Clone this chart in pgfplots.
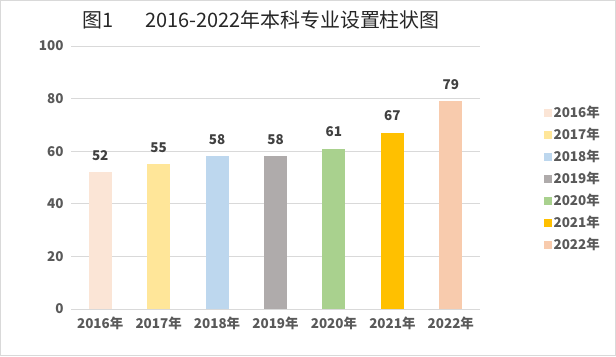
\documentclass[border=0pt]{standalone}
\usepackage{fontspec}
\setmainfont{Noto Sans CJK SC}
\usepackage{pgfplots}
\pgfplotsset{compat=1.18}
\definecolor{c16}{HTML}{FBE5D6}
\definecolor{c17}{HTML}{FFE699}
\definecolor{c18}{HTML}{BDD7EE}
\definecolor{c19}{HTML}{AFABAB}
\definecolor{c20}{HTML}{A9D18E}
\definecolor{c21}{HTML}{FFC000}
\definecolor{c22}{HTML}{F8CBAD}
\definecolor{txt}{HTML}{595959}
\definecolor{vtxt}{HTML}{404040}
\definecolor{gridc}{HTML}{D9D9D9}
\begin{document}
\begin{tikzpicture}[x=1bp,y=1bp]
\useasboundingbox (0,0) rectangle (616,356);
\draw[gridc] (0.5,0.5) rectangle (615.5,355.5);
\node[font=\fontsize{20}{24}\selectfont, text=black!85] at (261,336) {图1\hspace{1.6em}2016-2022年本科专业设置柱状图};
\begin{axis}[
  at={(71bp,47bp)}, anchor=south west,
  scale only axis, width=409bp, height=263bp,
  xmin=-0.5, xmax=6.5, ymin=0, ymax=100,
  ytick={0,20,...,100}, xtick={0,...,6},
  xticklabels={2016年,2017年,2018年,2019年,2020年,2021年,2022年},
  ymajorgrids, grid style={gridc, line width=0.8pt},
  axis line style={draw=none},
  major tick length=0pt,
  /pgf/number format/assume math mode=true,
  ticklabel style={font=\bfseries\fontsize{13.5}{15}\selectfont, text=txt},
  xticklabel style={yshift=-4bp},
  yticklabel style={xshift=-4bp},
  clip=false,
  nodes near coords,
  nodes near coords style={font=\bfseries\fontsize{13.5}{15}\selectfont, text=vtxt, yshift=8.5bp},
  every axis plot/.append style={ybar, bar width=23bp, bar shift=0pt, draw=none},
  legend image code/.code={\fill (0bp,-4bp) rectangle (8bp,4bp);},
  legend style={draw=none, fill=none, inner sep=0pt, at={(1.155,0.78)}, anchor=north west,
    font=\bfseries\fontsize{13.5}{15}\selectfont, text=txt, row sep=5bp,
    cells={anchor=west}},
]
\addplot[fill=c16] coordinates {(0,52)}; \addlegendentry{2016年}
\addplot[fill=c17] coordinates {(1,55)}; \addlegendentry{2017年}
\addplot[fill=c18] coordinates {(2,58)}; \addlegendentry{2018年}
\addplot[fill=c19] coordinates {(3,58)}; \addlegendentry{2019年}
\addplot[fill=c20] coordinates {(4,61)}; \addlegendentry{2020年}
\addplot[fill=c21] coordinates {(5,67)}; \addlegendentry{2021年}
\addplot[fill=c22] coordinates {(6,79)}; \addlegendentry{2022年}
\end{axis}
\end{tikzpicture}
\end{document}
